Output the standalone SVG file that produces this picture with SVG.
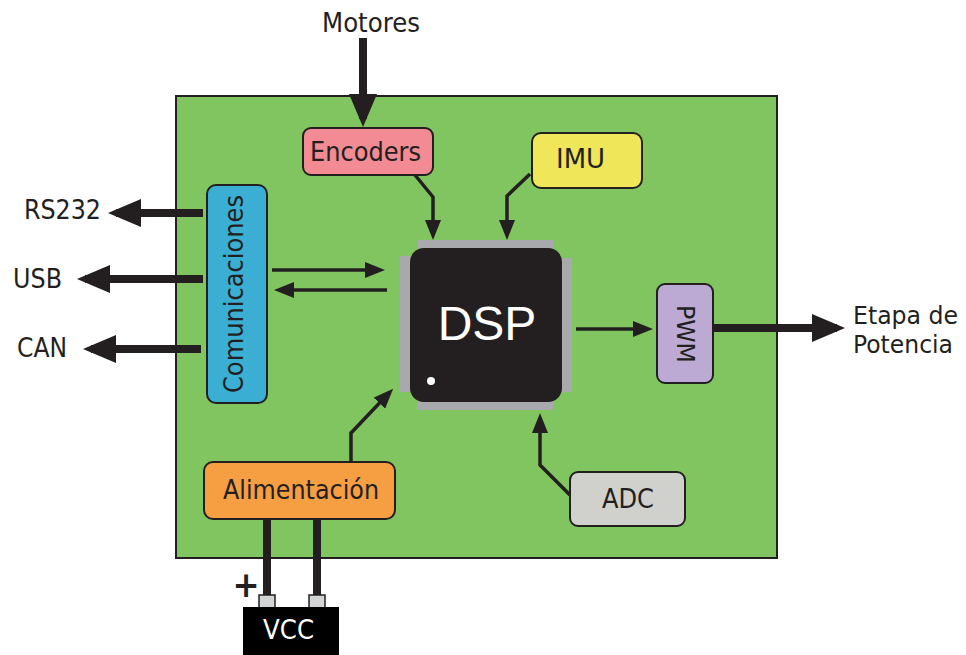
<svg xmlns="http://www.w3.org/2000/svg" width="966" height="655" viewBox="0 0 966 655">
<style>
text{font-family:"DejaVu Sans Condensed","DejaVu Sans",Verdana,sans-serif;font-size:27px;fill:#231f20}
.box{stroke:#231f20;stroke-width:2}
.thin{stroke:#231f20;stroke-width:3.5;fill:none}
.thick{stroke:#231f20;stroke-width:8;fill:none}
.pin{fill:#a7a9ac}
</style>
<defs>
<marker id="ah" viewBox="0 0 20 16" refX="14" refY="8" markerWidth="20" markerHeight="16" markerUnits="userSpaceOnUse" orient="auto">
<path d="M0,0 L20,8 L0,16 z" fill="#231f20"/>
</marker>
<marker id="ahb" viewBox="0 0 33 28" refX="25" refY="14" markerWidth="33" markerHeight="28" markerUnits="userSpaceOnUse" orient="auto">
<path d="M0,0 L33,14 L0,28 z" fill="#231f20"/>
</marker>
</defs>
<rect x="0" y="0" width="966" height="655" fill="#ffffff"/>
<g id="board">
<rect x="176" y="96" width="601" height="462" fill="#80c55f" stroke="#231f20" stroke-width="2"/>
</g>
<g id="connectors">
<path class="thick" d="M363,38 V119" marker-end="url(#ahb)"/>
<path class="thin" d="M415,175 L433,197 V234" marker-end="url(#ah)"/>
<path class="thin" d="M530,174 L507,196 V234" marker-end="url(#ah)"/>
<path class="thick" d="M203,213 H116" marker-end="url(#ahb)"/>
<path class="thick" d="M203,279 H85" marker-end="url(#ahb)"/>
<path class="thick" d="M201,349 H91" marker-end="url(#ahb)"/>
<path class="thin" d="M272,270 H379" marker-end="url(#ah)"/>
<path class="thin" d="M387,290 H280" marker-end="url(#ah)"/>
<path class="thin" d="M576,329 H647" marker-end="url(#ah)"/>
<path class="thick" d="M713,328 H837" marker-end="url(#ahb)"/>
<path class="thin" d="M570,495 L540,465 V419" marker-end="url(#ah)"/>
<path class="thin" d="M351,462 V433 L389,393" marker-end="url(#ah)"/>
<path class="thick" d="M267,519 V597"/>
<path class="thick" d="M317,519 V597"/>
</g>
<g id="motores"><text x="322" y="32" textLength="98" lengthAdjust="spacingAndGlyphs">Motores</text></g>
<g id="encoders">
<rect class="box" x="303" y="128" width="130" height="47" rx="8" fill="#f28b93"/>
<text x="310" y="161" textLength="111" lengthAdjust="spacingAndGlyphs">Encoders</text>
</g>
<g id="imu">
<rect class="box" x="532" y="133" width="110" height="55" rx="9" fill="#f0e65a"/>
<text x="556" y="168" textLength="49" lengthAdjust="spacingAndGlyphs">IMU</text>
</g>
<g id="dsp">
<rect class="pin" x="418" y="240" width="135" height="9"/>
<rect class="pin" x="417" y="401" width="136" height="9"/>
<rect class="pin" x="400" y="256" width="11" height="136"/>
<rect class="pin" x="561" y="258" width="11" height="134"/>
<rect x="410" y="248" width="152" height="154" rx="14" fill="#231f20"/>
<text x="487" y="340" text-anchor="middle" style="font-family:'Liberation Sans',Arial,sans-serif;font-size:48px;fill:#ffffff">DSP</text>
<circle cx="431" cy="381" r="4" fill="#ffffff"/>
</g>
<g id="comunicaciones">
<rect class="box" x="207" y="185" width="60" height="218" rx="9" fill="#3bafd3"/>
<text transform="translate(243,393) rotate(-90)" textLength="198" lengthAdjust="spacingAndGlyphs">Comunicaciones</text>
</g>
<g id="rs232"><text x="24" y="219" textLength="77" lengthAdjust="spacingAndGlyphs">RS232</text></g>
<g id="usb"><text x="13" y="288" textLength="49" lengthAdjust="spacingAndGlyphs">USB</text></g>
<g id="can"><text x="17" y="357" textLength="50" lengthAdjust="spacingAndGlyphs">CAN</text></g>
<g id="pwm">
<rect class="box" x="657" y="284" width="56" height="99" rx="8" fill="#bcaad4"/>
<text transform="translate(677,305) rotate(90)" textLength="58" lengthAdjust="spacingAndGlyphs" style="font-size:25px">PWM</text>
</g>
<g id="etapa">
<text style="font-size:24.5px"><tspan x="853" y="324" textLength="105" lengthAdjust="spacingAndGlyphs">Etapa de</tspan><tspan x="853" y="353" textLength="100" lengthAdjust="spacingAndGlyphs">Potencia</tspan></text>
</g>
<g id="adc">
<rect class="box" x="570" y="472" width="115" height="54" rx="8" fill="#d0d0cc"/>
<text x="602" y="508" textLength="52" lengthAdjust="spacingAndGlyphs">ADC</text>
</g>
<g id="alimentacion">
<rect class="box" x="204" y="462" width="191" height="57" rx="9" fill="#f59e42"/>
<text x="223" y="499" textLength="156" lengthAdjust="spacingAndGlyphs">Alimentación</text>
</g>
<g id="vcc">
<rect x="259" y="595" width="16" height="13" fill="#d1d3d4" stroke="#231f20" stroke-width="1.5"/>
<rect x="309" y="595" width="16" height="13" fill="#d1d3d4" stroke="#231f20" stroke-width="1.5"/>
<rect x="243" y="607" width="96" height="48" fill="#000000"/>
<text x="263" y="639" textLength="51" lengthAdjust="spacingAndGlyphs" style="fill:#ffffff">VCC</text>
<text x="246" y="597" text-anchor="middle" style="font-size:36px;font-weight:bold">+</text>
</g>
</svg>
